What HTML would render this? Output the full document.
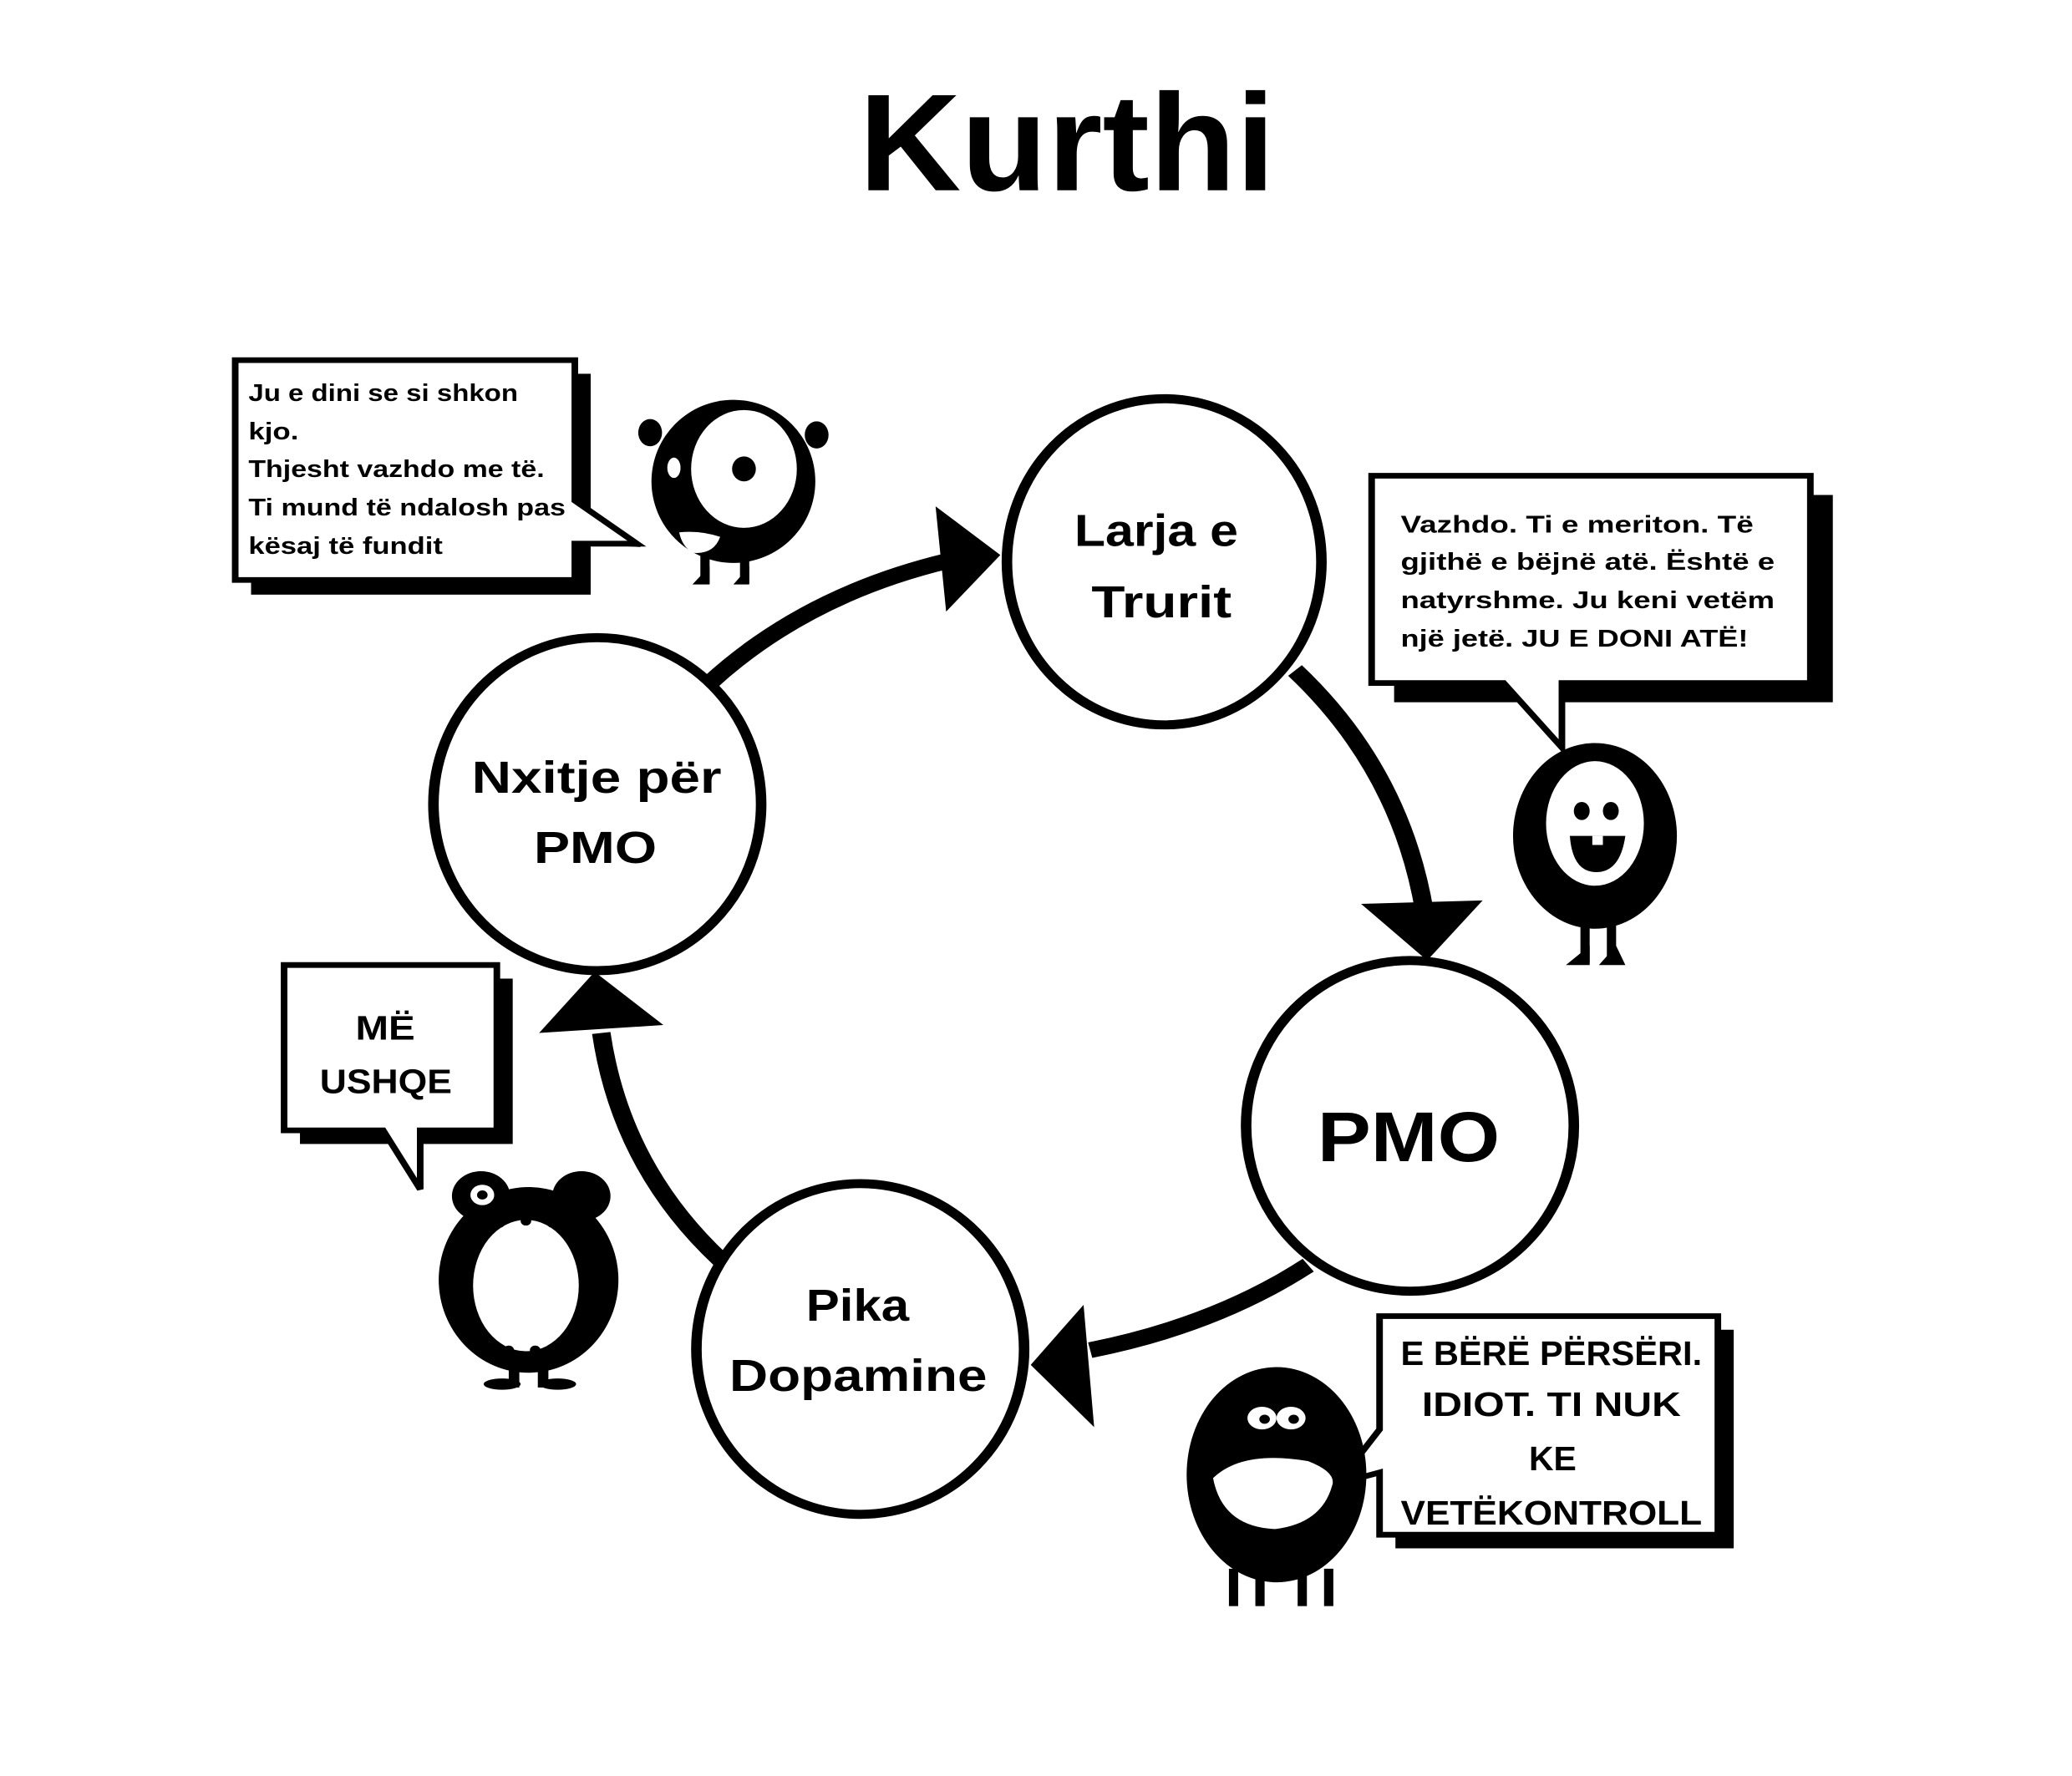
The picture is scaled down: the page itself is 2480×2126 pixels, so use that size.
<!DOCTYPE html>
<html><head><meta charset="utf-8"><style>html,body{margin:0;padding:0;background:#fff;overflow:hidden}svg{display:block}text{font-family:"Liberation Sans",sans-serif;font-weight:bold;fill:#000}</style></head>
<body>
<svg width="2480" height="2126" viewBox="0 0 1568 1568" preserveAspectRatio="none" xmlns="http://www.w3.org/2000/svg">
<rect width="1568" height="1568" fill="#fff"/>
<text x="650" y="168" font-size="122" textLength="315" lengthAdjust="spacingAndGlyphs">Kurthi</text>

<!-- arrows -->
<g fill="none" stroke="#000" stroke-width="14">
<path d="M537,603 Q610,525 718,495"/>
<path d="M980,592 Q1060,680 1078,805"/>
<path d="M990,1117 Q920,1170 825,1192"/>
<path d="M545,1112 Q470,1030 455,912"/>
</g>
<g fill="#000">
<polygon points="757,490 708,447 716,540"/>
<polygon points="1080,848 1030,798 1122,795"/>
<polygon points="780,1205 820,1152 828,1260"/>
<polygon points="450,858 408,912 502,905"/>
</g>

<!-- circles -->
<g fill="#fff" stroke="#000" stroke-width="8">
<ellipse cx="881" cy="496" rx="119" ry="144"/>
<ellipse cx="1067" cy="994" rx="124" ry="146"/>
<ellipse cx="651" cy="1191" rx="124" ry="146"/>
<ellipse cx="452" cy="710" rx="124" ry="147"/>
</g>
<text x="813" y="482" font-size="40" textLength="124" lengthAdjust="spacingAndGlyphs">Larja e</text>
<text x="826" y="545" font-size="40" textLength="106" lengthAdjust="spacingAndGlyphs">Trurit</text>
<text x="997" y="1025" font-size="62" textLength="138" lengthAdjust="spacingAndGlyphs">PMO</text>
<text x="357" y="700" font-size="40" textLength="189" lengthAdjust="spacingAndGlyphs">Nxitje për</text>
<text x="404" y="762" font-size="40" textLength="93" lengthAdjust="spacingAndGlyphs">PMO</text>
<text x="610" y="1166" font-size="40" textLength="78" lengthAdjust="spacingAndGlyphs">Pika</text>
<text x="552" y="1228" font-size="40" textLength="195" lengthAdjust="spacingAndGlyphs">Dopamine</text>

<!-- bubble 1 -->
<rect x="190" y="330" width="257" height="195" fill="#000"/>
<polygon points="435,440 485,483 435,480" fill="#000"/>
<path d="M178,318 H435 V442 L482,480 H435 V512 H178 Z" fill="#fff" stroke="#000" stroke-width="5"/>
<g font-size="21">
<text x="188" y="354" textLength="204" lengthAdjust="spacingAndGlyphs">Ju e dini se si shkon</text>
<text x="188" y="388" textLength="38" lengthAdjust="spacingAndGlyphs">kjo.</text>
<text x="188" y="421" textLength="224" lengthAdjust="spacingAndGlyphs">Thjesht vazhdo me të.</text>
<text x="188" y="455" textLength="240" lengthAdjust="spacingAndGlyphs">Ti mund të ndalosh pas</text>
<text x="188" y="489" textLength="147" lengthAdjust="spacingAndGlyphs">kësaj të fundit</text>
</g>

<!-- bubble 2 -->
<rect x="1055" y="437" width="332" height="183" fill="#000"/>
<path d="M1038,420 H1370 V603 H1182 V660 L1138,603 H1038 Z" fill="#fff" stroke="#000" stroke-width="5"/>
<g font-size="21">
<text x="1060" y="470" textLength="267" lengthAdjust="spacingAndGlyphs">Vazhdo. Ti e meriton. Të</text>
<text x="1060" y="503" textLength="283" lengthAdjust="spacingAndGlyphs">gjithë e bëjnë atë. Është e</text>
<text x="1060" y="537" textLength="283" lengthAdjust="spacingAndGlyphs">natyrshme. Ju keni vetëm</text>
<text x="1060" y="571" textLength="263" lengthAdjust="spacingAndGlyphs">një jetë. JU E DONI ATË!</text>
</g>

<!-- bubble 3 -->
<rect x="227" y="864" width="161" height="146" fill="#000"/>
<path d="M215,852 H376 V998 H318 V1050 L290,998 H215 Z" fill="#fff" stroke="#000" stroke-width="5"/>
<text x="269" y="918" font-size="30" textLength="45" lengthAdjust="spacingAndGlyphs">MË</text>
<text x="242" y="965" font-size="30" textLength="100" lengthAdjust="spacingAndGlyphs">USHQE</text>

<!-- bubble 4 -->
<rect x="1056" y="1174" width="256" height="193" fill="#000"/>
<path d="M1044,1162 H1300 V1355 H1044 V1300 L1012,1310 L1044,1262 Z" fill="#fff" stroke="#000" stroke-width="5"/>
<g font-size="30">
<text x="1060" y="1205" textLength="228" lengthAdjust="spacingAndGlyphs">E BËRË PËRSËRI.</text>
<text x="1076" y="1250" textLength="196" lengthAdjust="spacingAndGlyphs">IDIOT. TI NUK</text>
<text x="1157" y="1298" textLength="36" lengthAdjust="spacingAndGlyphs">KE</text>
<text x="1060" y="1346" textLength="228" lengthAdjust="spacingAndGlyphs">VETËKONTROLL</text>
</g>

<!-- monster 1 -->
<g>
<ellipse cx="492" cy="382" rx="9" ry="12" fill="#000"/>
<ellipse cx="618" cy="384" rx="9" ry="12" fill="#000"/>
<rect x="530" y="480" width="7" height="35" fill="#000"/>
<rect x="560" y="480" width="7" height="35" fill="#000"/>
<polygon points="524,516 537,500 537,516" fill="#000"/>
<polygon points="555,516 567,500 567,516" fill="#000"/>
<ellipse cx="555" cy="425" rx="62" ry="72" fill="#000"/>
<ellipse cx="563" cy="414" rx="40" ry="52" fill="#fff"/>
<ellipse cx="563" cy="414" rx="9" ry="11" fill="#000"/>
<ellipse cx="510" cy="413" rx="5" ry="9" fill="#fff"/>
<path d="M514,470 Q530,468 545,474 Q540,490 524,488 Q516,482 514,470 Z" fill="#fff"/>
</g>

<!-- monster 2 -->
<g>
<rect x="1196" y="810" width="7" height="40" fill="#000"/>
<rect x="1216" y="810" width="7" height="40" fill="#000"/>
<polygon points="1185,852 1203,835 1203,852" fill="#000"/>
<polygon points="1210,852 1223,835 1230,852" fill="#000"/>
<ellipse cx="1207" cy="738" rx="62" ry="82" fill="#000"/>
<ellipse cx="1207" cy="727" rx="37" ry="55" fill="#fff"/>
<ellipse cx="1197" cy="716" rx="6" ry="8" fill="#000"/>
<ellipse cx="1219" cy="716" rx="6" ry="8" fill="#000"/>
<path d="M1188,738 H1230 Q1226,770 1208,770 Q1190,770 1188,738 Z" fill="#000"/>
<rect x="1205" y="738" width="8" height="8" fill="#fff"/>
</g>

<!-- monster 3 -->
<g>
<rect x="385" y="1190" width="8" height="35" fill="#000"/>
<rect x="407" y="1190" width="8" height="35" fill="#000"/>
<ellipse cx="380" cy="1222" rx="14" ry="5" fill="#000"/>
<ellipse cx="422" cy="1222" rx="14" ry="5" fill="#000"/>
<circle cx="364" cy="1056" r="22" fill="#000"/>
<circle cx="440" cy="1056" r="22" fill="#000"/>
<ellipse cx="400" cy="1130" rx="68" ry="82" fill="#000"/>
<circle cx="365" cy="1055" r="9" fill="#fff"/>
<circle cx="365" cy="1055" r="4" fill="#000"/>
<ellipse cx="398" cy="1135" rx="40" ry="58" fill="#fff"/>
<g fill="#000"><circle cx="378" cy="1080" r="4"/><circle cx="398" cy="1078" r="4"/><circle cx="418" cy="1080" r="4"/><circle cx="385" cy="1192" r="4"/><circle cx="405" cy="1192" r="4"/></g>
</g>

<!-- monster 4 -->
<g>
<rect x="930" y="1385" width="7" height="33" fill="#000"/>
<rect x="950" y="1385" width="7" height="33" fill="#000"/>
<rect x="982" y="1385" width="7" height="33" fill="#000"/>
<rect x="1002" y="1385" width="7" height="33" fill="#000"/>
<ellipse cx="966" cy="1302" rx="68" ry="95" fill="#000"/>
<ellipse cx="955" cy="1252" rx="11" ry="10" fill="#fff"/>
<ellipse cx="977" cy="1252" rx="11" ry="10" fill="#fff"/>
<circle cx="957" cy="1253" r="4" fill="#000"/>
<circle cx="979" cy="1253" r="4" fill="#000"/>
<path d="M918,1305 Q940,1280 990,1290 Q1012,1300 1008,1312 Q1000,1345 965,1350 Q925,1348 918,1305 Z" fill="#fff"/>
</g>
</svg>
</body></html>
